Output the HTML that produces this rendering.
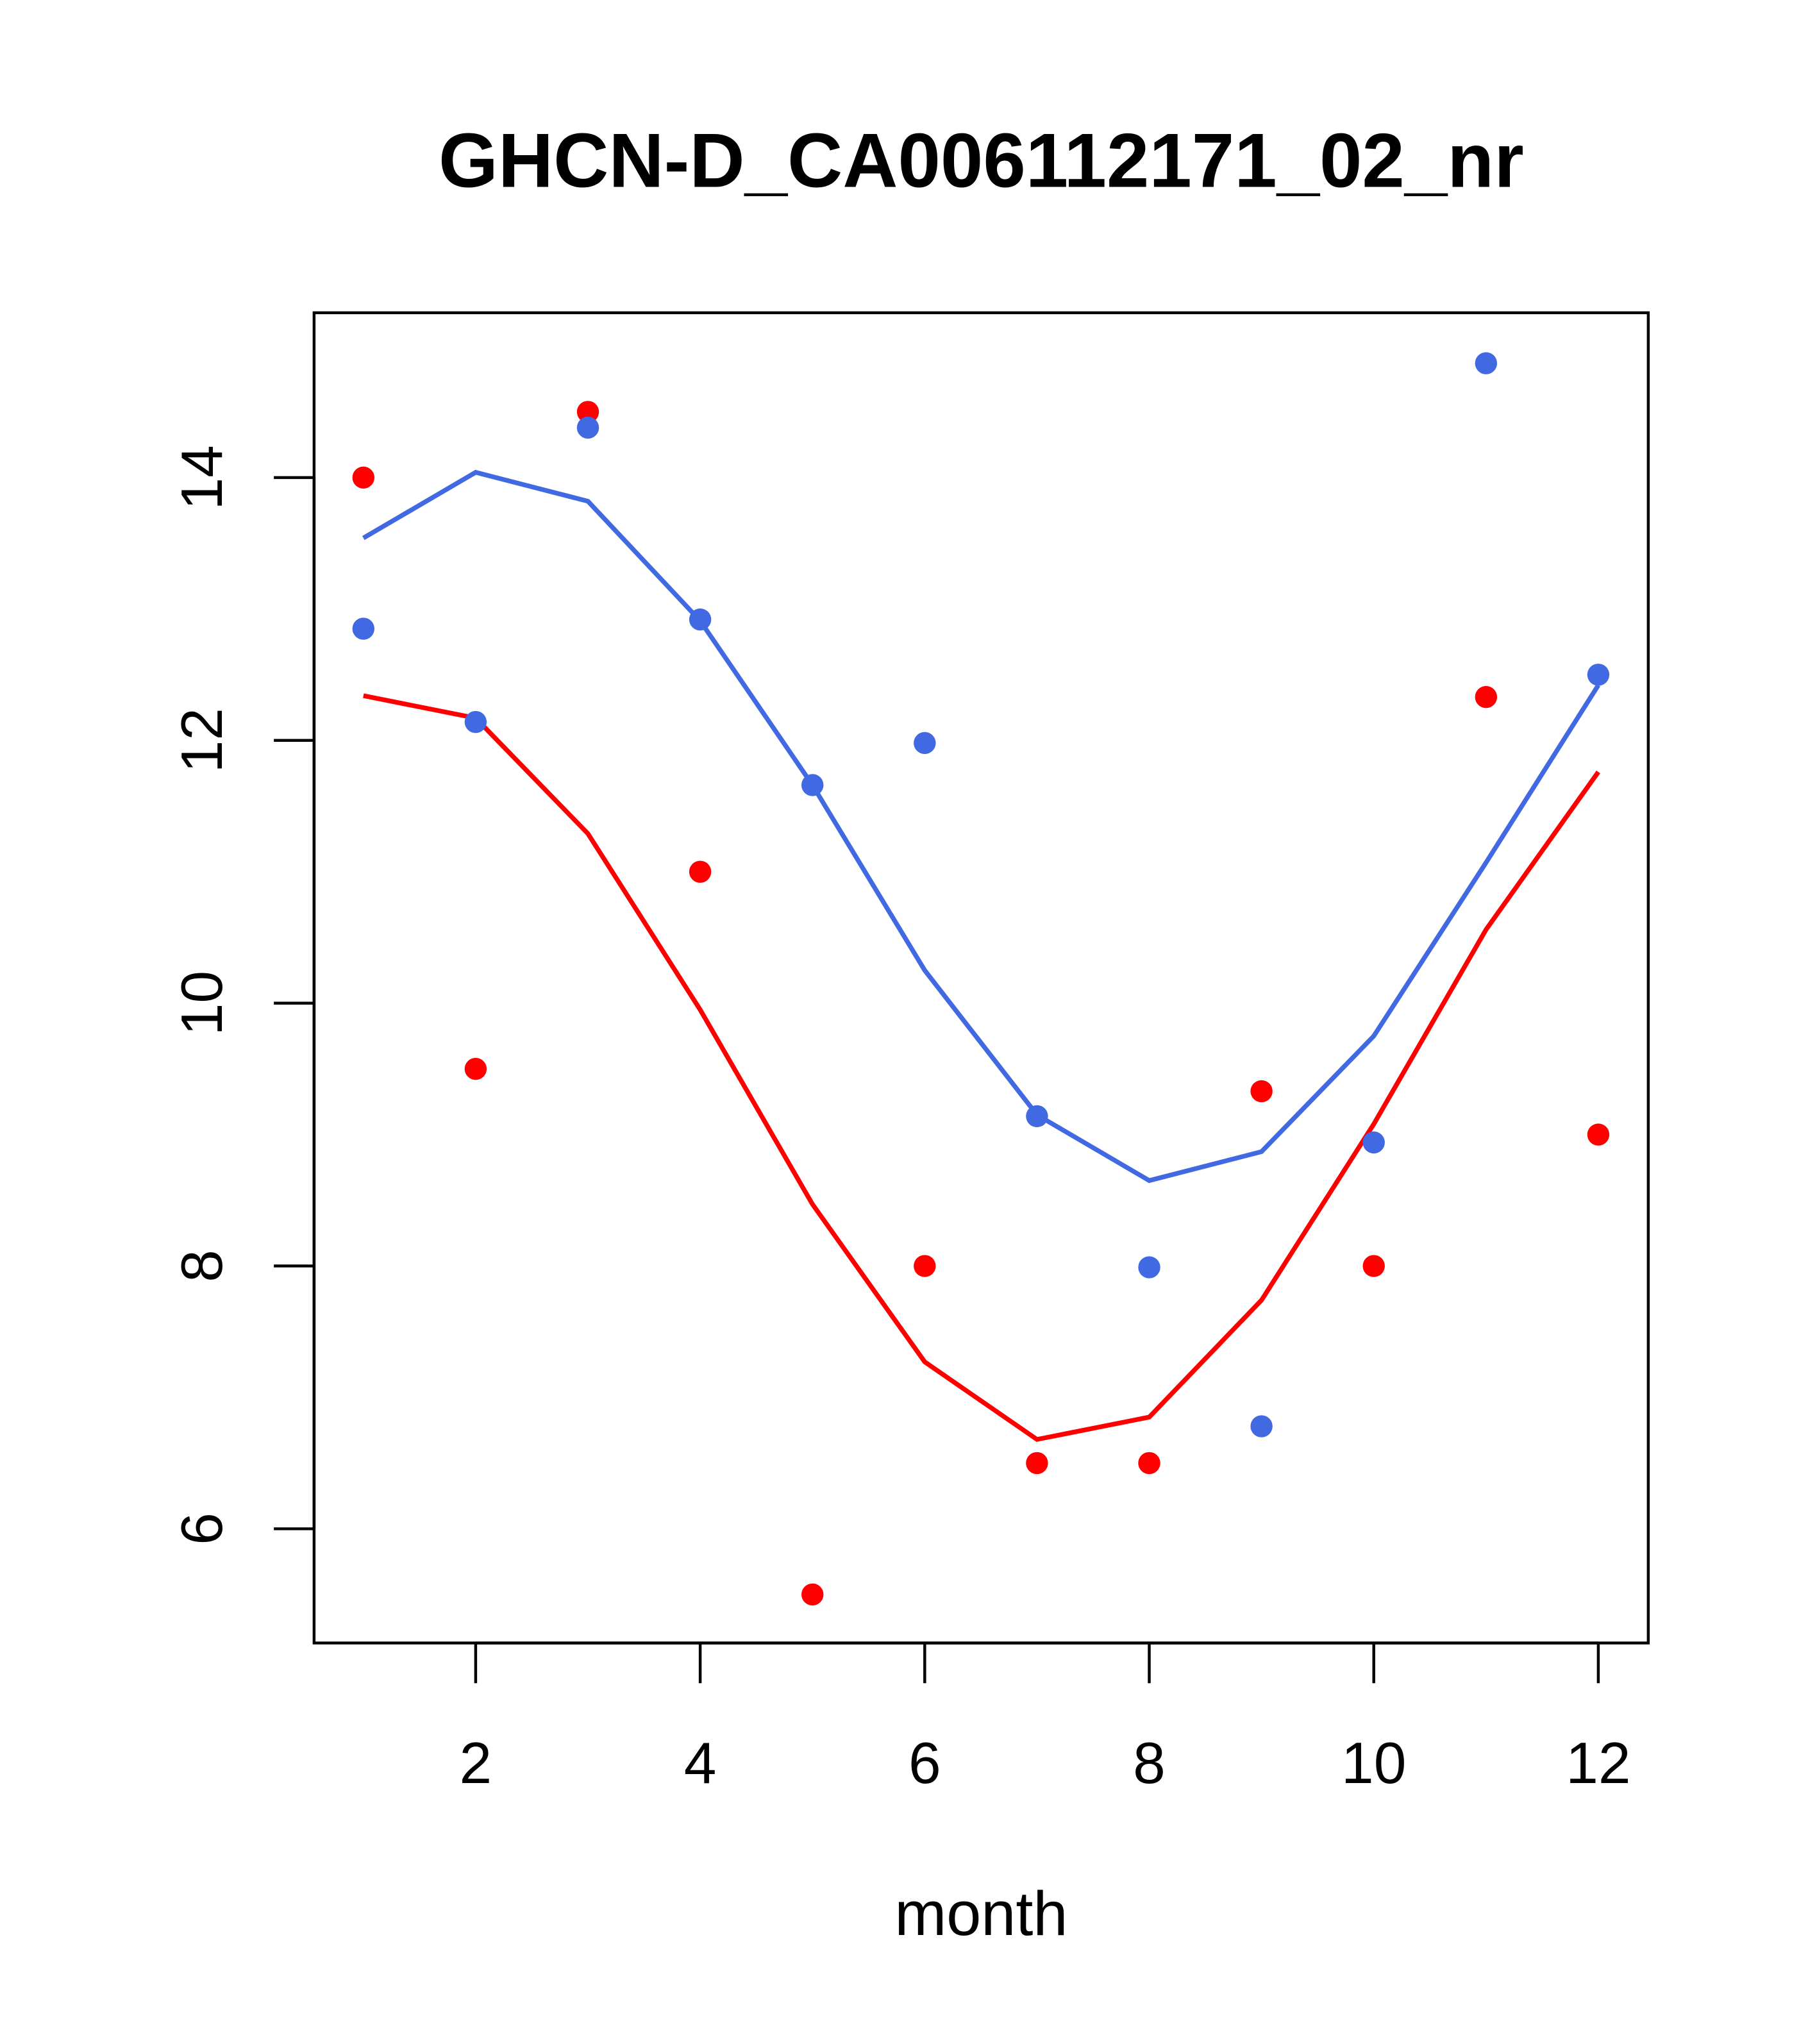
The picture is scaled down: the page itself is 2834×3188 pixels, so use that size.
<!DOCTYPE html>
<html><head><meta charset="utf-8"><style>
html,body{margin:0;padding:0;background:#fff;}
svg{display:block;font-family:"Liberation Sans",sans-serif;}
</style></head><body>
<svg id="chart" width="2834" height="3188" viewBox="0 0 1400 1575" preserveAspectRatio="none" xmlns="http://www.w3.org/2000/svg">
<text x="756" y="144" text-anchor="middle" font-size="59" font-weight="bold">GHCN-D_CA006112171_02_nr</text>
<rect x="242" y="241" width="1028" height="1025" fill="none" stroke="#000" stroke-width="2.2"/>
<text x="756" y="1491" text-anchor="middle" font-size="48">month</text>
<g id="xaxis"></g>
<g id="yaxis"></g>
<g id="series"></g>
</svg>
<script>
const months = [1,2,3,4,5,6,7,8,9,10,11,12];
const redPoints = [14.0,9.5,14.5,11.0,5.5,8.0,6.5,6.5,9.33,8.0,12.33,9.0];
const bluePoints = [12.85,12.14,14.38,12.92,11.66,11.98,9.14,7.99,6.78,8.94,14.87,12.5];
const redLine = [12.34,12.17,11.29,9.95,8.47,7.27,6.68,6.85,7.74,9.08,10.56,11.76];
const blueLine = [13.54,14.04,13.82,12.91,11.66,10.25,9.15,8.65,8.87,9.75,11.07,12.42];
const xTicks = [2,4,6,8,10,12];
const yTicks = [6,8,10,12,14];

const NS = "http://www.w3.org/2000/svg";
function xs(m){ return 280 + (m-1)*86.5; }
function ys(v){ return 368 + (14-v)*101.25; }
function mk(tag, attrs, parent){
  const e = document.createElementNS(NS, tag);
  for (const k in attrs) e.setAttribute(k, attrs[k]);
  parent.appendChild(e); return e;
}
const xa = document.getElementById('xaxis');
const ya = document.getElementById('yaxis');
const sr = document.getElementById('series');
mk('line',{x1:xs(2),x2:xs(12),y1:1266,y2:1266,stroke:'#000','stroke-width':2.2},xa);
xTicks.forEach(t=>{
  const l = mk('line',{x1:xs(t),x2:xs(t),y1:1266,y2:1297,stroke:'#000','stroke-width':2.2},xa);
  
  
  const tx = mk('text',{x:xs(t),y:1374,'text-anchor':'middle','font-size':45},xa);
  tx.textContent = t;
  
  
});
mk('line',{x1:242,x2:242,y1:ys(6),y2:ys(14),stroke:'#000','stroke-width':2.2},ya);
yTicks.forEach(t=>{
  const l = mk('line',{x1:211,x2:242,y1:ys(t),y2:ys(t),stroke:'#000','stroke-width':2.2},ya);
  
  
  const tx = mk('text',{x:0,y:0,'text-anchor':'middle','font-size':45,transform:`translate(171,${ys(t)}) rotate(-90)`},ya);
  tx.textContent = t;
  
  
});
function drawLine(vals, color, name){
  const p = mk('polyline',{points:vals.map((v,i)=>xs(months[i])+','+ys(v)).join(' '),fill:'none',stroke:color,'stroke-width':3.6},sr);
  
  
}
function drawPts(vals, color, name){
  vals.forEach((v,i)=>{
    const c = mk('circle',{cx:xs(months[i]),cy:ys(v),r:8.5,fill:color},sr);
    
    
  });
}
drawLine(redLine,'#ff0000','red-fit-line');
drawLine(blueLine,'#4169e1','blue-fit-line');
drawPts(redPoints,'#ff0000','red-point');
drawPts(bluePoints,'#4169e1','blue-point');
</script>
</body></html>
